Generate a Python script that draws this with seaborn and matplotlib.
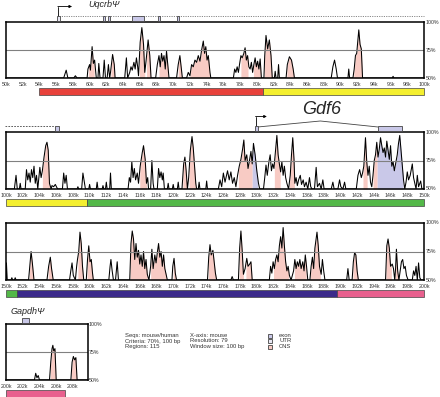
import numpy as np
import matplotlib
matplotlib.use("Agg")
import matplotlib.pyplot as plt
import matplotlib.transforms as mtransforms
from matplotlib.patches import Rectangle
import seaborn as sns

sns.set_style("white")
plt.rcParams['font.family'] = ['Liberation Sans', 'DejaVu Sans']

CNS = "#f8cbc4"
EXON = "#c9c8e8"
UTR = "#e9e8f4"

# ---------------- conservation profiles (position kb, % identity) ----------------
p1_profile = [
    (50, 50), (56.9, 50), (57.2, 57), (57.4, 50), (58.1, 50), (58.3, 52), (58.5, 50),
    (59.7, 50), (59.8, 58), (60.0, 62), (60.1, 57), (60.3, 78), (60.45, 63), (60.6, 66),
    (60.8, 50), (61.0, 50), (61.1, 63), (61.25, 50), (61.6, 50), (61.75, 66), (61.9, 50),
    (62.1, 50), (62.25, 62), (62.4, 50), (62.5, 55), (62.75, 71), (62.95, 62), (63.05, 50),
    (64.2, 50), (64.4, 68), (64.55, 50), (64.8, 55), (64.95, 60), (65.1, 57), (65.3, 64),
    (65.45, 58), (65.6, 68), (65.75, 60), (65.85, 52), (66.05, 82), (66.25, 95), (66.45, 80),
    (66.6, 55), (66.75, 65), (67.0, 84), (67.2, 70), (67.35, 50), (67.9, 50), (68.1, 62),
    (68.3, 70), (68.45, 60), (68.6, 72), (68.75, 65), (68.9, 70), (69.05, 58), (69.2, 74),
    (69.35, 62), (69.5, 50), (70.4, 50), (70.6, 62), (70.8, 70), (70.95, 60), (71.1, 50),
    (71.6, 50), (71.8, 55), (72.0, 52), (72.2, 62), (72.4, 60), (72.6, 66), (72.8, 64),
    (73.0, 70), (73.2, 65), (73.4, 75), (73.6, 83), (73.75, 72), (73.9, 78), (74.05, 66),
    (74.2, 70), (74.4, 55), (74.5, 50), (77.2, 50), (77.35, 58), (77.5, 55), (77.65, 60),
    (77.8, 55), (77.95, 63), (78.1, 70), (78.25, 68), (78.45, 72), (78.6, 77), (78.75, 66),
    (78.9, 70), (79.05, 60), (79.2, 58), (79.35, 64), (79.5, 55), (79.65, 62), (79.8, 68),
    (79.95, 60), (80.1, 65), (80.25, 58), (80.4, 67), (80.55, 50), (80.85, 50), (80.95, 70),
    (81.1, 88), (81.3, 76), (81.5, 84), (81.7, 70), (81.85, 50), (82.1, 50), (82.2, 56),
    (82.3, 50), (82.5, 50), (82.6, 62), (82.7, 50), (83.5, 50), (83.65, 62), (83.9, 69),
    (84.15, 66), (84.35, 58), (84.5, 50), (88.9, 50), (89.1, 60), (89.3, 66), (89.5, 58),
    (89.65, 50), (90.9, 50), (91.0, 58), (91.1, 50), (91.5, 50), (91.65, 58), (91.8, 70),
    (91.95, 72), (92.1, 85), (92.2, 93), (92.35, 80), (92.5, 76), (92.65, 50), (96.2, 50),
    (96.3, 51.5), (96.4, 50), (100, 50),
]
p1_cns = [(59.85, 60.55), (62.55, 63.0), (65.95, 66.6), (66.8, 67.3), (68.3, 69.4),
          (70.6, 71.0), (72.0, 74.35), (78.1, 78.95), (79.6, 80.5), (80.9, 81.85),
          (83.6, 84.45), (91.6, 92.6)]
p1_exon = []

p2_profile = [
    (100, 50), (101.0, 50), (101.2, 62), (101.35, 50), (101.6, 50), (101.7, 55), (101.8, 50),
    (102.3, 50), (102.45, 67), (102.6, 58), (102.75, 64), (102.9, 56), (103.05, 67),
    (103.2, 60), (103.35, 70), (103.5, 55), (103.65, 62), (103.8, 50), (103.9, 58),
    (104.05, 69), (104.2, 60), (104.35, 66), (104.55, 78), (104.75, 88), (104.9, 91),
    (105.05, 84), (105.2, 55), (105.4, 50), (105.5, 53), (105.7, 52), (105.9, 54),
    (106.1, 51), (106.2, 50), (106.75, 50), (106.9, 64), (107.05, 55), (107.2, 62),
    (107.35, 50), (108.5, 50), (108.6, 52), (108.7, 50), (109.05, 50), (109.2, 64),
    (109.4, 55), (109.5, 50), (109.9, 50), (110.0, 54), (110.1, 50), (110.8, 50),
    (110.9, 56), (111.0, 50), (111.5, 50), (111.6, 53), (111.7, 50), (111.9, 50),
    (112.0, 56), (112.1, 50), (112.4, 50), (112.5, 64), (112.6, 50), (114.6, 50),
    (114.75, 60), (114.9, 56), (115.05, 74), (115.2, 60), (115.35, 68), (115.5, 58),
    (115.7, 64), (115.85, 55), (116.05, 70), (116.3, 82), (116.45, 88), (116.65, 76),
    (116.8, 55), (116.95, 60), (117.05, 50), (117.3, 50), (117.45, 75), (117.6, 55),
    (117.7, 50), (118.1, 50), (118.25, 68), (118.4, 60), (118.55, 65), (118.7, 58),
    (118.8, 64), (118.95, 50), (119.3, 50), (119.4, 55), (119.5, 50), (119.9, 50),
    (120.0, 54), (120.1, 50), (120.5, 50), (120.6, 56), (120.7, 50), (121.05, 50),
    (121.25, 72), (121.4, 78), (121.55, 66), (121.7, 50), (121.85, 60), (122.05, 84),
    (122.25, 96), (122.4, 86), (122.55, 70), (122.7, 55), (122.8, 50), (123.0, 50),
    (123.1, 56), (123.2, 50), (123.9, 50), (124.0, 57), (124.1, 50), (125.4, 50),
    (125.6, 58), (125.8, 52), (126.0, 64), (126.2, 56), (126.5, 66), (126.7, 58),
    (126.9, 65), (127.1, 55), (127.3, 60), (127.5, 52), (127.7, 62), (127.9, 70),
    (128.1, 76), (128.3, 85), (128.45, 93), (128.6, 75), (128.8, 80), (128.95, 68),
    (129.1, 74), (129.3, 83), (129.45, 72), (129.6, 90), (129.8, 80), (130.0, 66),
    (130.2, 55), (130.35, 50), (130.8, 50), (130.95, 60), (131.1, 71), (131.25, 62),
    (131.45, 74), (131.6, 80), (131.75, 66), (131.9, 72), (132.05, 68), (132.25, 84),
    (132.4, 97), (132.55, 80), (132.7, 72), (132.85, 65), (133.0, 74), (133.15, 62),
    (133.3, 70), (133.45, 60), (133.6, 55), (133.8, 50), (134.0, 62), (134.15, 80),
    (134.3, 95), (134.45, 76), (134.55, 55), (134.7, 60), (134.85, 53), (135.0, 58),
    (135.2, 62), (135.35, 54), (135.55, 58), (135.7, 52), (135.9, 56), (136.1, 50),
    (136.3, 60), (136.45, 52), (136.6, 50), (136.9, 50), (137.1, 69), (137.25, 52),
    (137.5, 55), (137.7, 50), (137.9, 58), (138.05, 50), (138.9, 50), (139.1, 56),
    (139.25, 50), (139.7, 50), (139.9, 58), (140.05, 52), (140.3, 50), (140.5, 56),
    (140.65, 50), (141.9, 50), (142.1, 62), (142.3, 67), (142.5, 60), (142.65, 64),
    (142.8, 70), (143.0, 95), (143.15, 74), (143.3, 62), (143.45, 70), (143.6, 56),
    (143.75, 52), (143.9, 62), (144.05, 75), (144.2, 80), (144.35, 91), (144.5, 78),
    (144.65, 85), (144.8, 95), (144.95, 88), (145.1, 82), (145.25, 86), (145.4, 78),
    (145.55, 92), (145.7, 84), (145.85, 76), (146.0, 88), (146.15, 70), (146.3, 74),
    (146.45, 66), (146.6, 72), (146.8, 80), (146.95, 90), (147.1, 97), (147.25, 84),
    (147.4, 70), (147.55, 58), (147.7, 50), (147.85, 56), (148.0, 65), (148.15, 58),
    (148.35, 62), (148.6, 72), (148.75, 60), (148.9, 55), (149.05, 50), (149.2, 62),
    (149.35, 52), (149.6, 57), (149.75, 50), (150, 50),
]
p2_cns = [(104.35, 105.2), (116.0, 116.8), (121.15, 121.6), (121.9, 122.7),
          (127.8, 129.45), (132.1, 132.8), (133.9, 134.5), (142.7, 143.2), (143.9, 144.4)]
p2_exon = [(129.45, 130.1), (144.4, 147.5)]

p3_profile = [
    (150, 50), (150.05, 65), (150.15, 50), (150.6, 50), (150.7, 52), (150.8, 50),
    (151.0, 50), (151.1, 52), (151.2, 50), (152.7, 50), (152.85, 62), (153.0, 75),
    (153.15, 65), (153.35, 50), (154.9, 50), (155.1, 62), (155.3, 70), (155.45, 60),
    (155.65, 50), (157.6, 50), (157.75, 58), (157.9, 65), (158.05, 54), (158.3, 50),
    (158.45, 62), (158.55, 68), (158.7, 75), (158.85, 92), (159.0, 82), (159.15, 62),
    (159.3, 50), (159.6, 50), (159.75, 68), (159.9, 80), (160.05, 66), (160.2, 68),
    (160.35, 56), (160.45, 50), (162.3, 50), (162.45, 62), (162.55, 68), (162.7, 58),
    (162.85, 50), (163.1, 50), (163.3, 66), (163.45, 50), (164.8, 50), (164.95, 82),
    (165.1, 93), (165.25, 86), (165.4, 68), (165.55, 82), (165.7, 70), (165.85, 76),
    (166.0, 64), (166.15, 72), (166.3, 62), (166.45, 75), (166.6, 60), (166.75, 68),
    (166.9, 55), (167.1, 50), (167.3, 62), (167.45, 77), (167.6, 60), (167.8, 72),
    (167.95, 65), (168.1, 74), (168.25, 82), (168.4, 70), (168.55, 75), (168.7, 62),
    (168.85, 72), (169.0, 60), (169.15, 55), (169.3, 50), (169.85, 50), (169.95, 62),
    (170.1, 69), (170.25, 56), (170.4, 50), (174.1, 50), (174.25, 70), (174.4, 81),
    (174.55, 72), (174.75, 76), (174.9, 66), (175.05, 56), (175.2, 50), (176.9, 50),
    (177.05, 53), (177.2, 50), (177.8, 50), (177.95, 78), (178.1, 93), (178.25, 76),
    (178.4, 55), (178.6, 60), (178.8, 69), (178.95, 62), (179.15, 64), (179.3, 66),
    (179.45, 50), (181.5, 50), (181.65, 62), (181.8, 56), (181.95, 66), (182.1, 60),
    (182.25, 68), (182.4, 72), (182.55, 66), (182.7, 80), (182.85, 88), (183.0, 78),
    (183.15, 96), (183.3, 80), (183.45, 66), (183.6, 58), (183.75, 62), (183.9, 54),
    (184.1, 50), (184.4, 58), (184.55, 68), (184.7, 60), (184.85, 66), (185.0, 62),
    (185.15, 68), (185.3, 60), (185.5, 66), (185.65, 58), (185.8, 72), (185.95, 62),
    (186.1, 50), (186.35, 50), (186.5, 62), (186.65, 70), (186.8, 60), (186.95, 78),
    (187.1, 86), (187.2, 92), (187.35, 80), (187.5, 62), (187.7, 55), (187.85, 68),
    (188.0, 58), (188.15, 50), (190.75, 50), (190.9, 60), (191.05, 50), (191.4, 50),
    (191.55, 66), (191.7, 74), (191.85, 72), (192.0, 58), (192.15, 50), (195.4, 50),
    (195.55, 80), (195.7, 86), (195.85, 78), (196.0, 62), (196.2, 64), (196.35, 60),
    (196.5, 50), (196.6, 60), (196.7, 77), (196.85, 58), (197.0, 50), (197.15, 58),
    (197.3, 66), (197.45, 68), (197.6, 60), (197.75, 62), (197.9, 54), (198.1, 50),
    (198.6, 50), (198.75, 58), (198.9, 54), (199.05, 62), (199.2, 50), (199.35, 65),
    (199.5, 52), (199.65, 50), (200, 50),
]
p3_cns = [(152.8, 153.3), (155.05, 155.55), (158.6, 159.2), (159.7, 160.4),
          (164.85, 166.9), (167.3, 169.2), (170.0, 170.3), (174.2, 175.1),
          (177.9, 178.4), (178.7, 179.4), (182.0, 183.8), (184.5, 185.9),
          (186.4, 187.6), (191.5, 192.1), (195.45, 196.1), (196.55, 197.0)]
p3_exon = []

p4_profile = [
    (200, 50), (203.4, 50), (203.55, 56), (203.7, 52), (203.85, 54), (204.0, 50),
    (205.2, 50), (205.35, 66), (205.5, 78), (205.6, 81), (205.7, 76), (205.85, 78),
    (206.0, 50), (207.75, 50), (207.9, 66), (208.05, 71), (208.2, 68), (208.35, 70),
    (208.5, 50), (209.8, 50),
]
p4_cns = [(205.3, 205.95), (207.8, 208.45)]
p4_exon = []

# contig colour bars (start kb, end kb, colour)
p1_bar = [(54, 80.8, "#e8413b"), (80.8, 100, "#f4ef2f")]
p2_bar = [(100, 109.7, "#f4ef2f"), (109.7, 150, "#53b848")]
p3_bar = [(150, 151.3, "#53b848"), (151.3, 189.6, "#3b2a8a"), (189.6, 200, "#e8608e")]
p4_bar = [(200, 207.1, "#e8608e")]

# gene features (start kb, end kb, fill)
uqcrb_boxes = [(56.1, 56.5, UTR), (61.6, 61.85, EXON), (62.2, 62.45, EXON),
               (65.1, 66.5, EXON), (68.2, 68.45, EXON), (70.5, 70.75, EXON)]
p2_left_boxes = [(105.9, 106.3, EXON)]
gdf6_boxes = [(129.8, 130.1, EXON), (144.5, 147.4, EXON)]
gapdh_boxes = [(201.9, 202.8, EXON)]

W, H = 440, 397
fig = plt.figure(figsize=(W / 100, H / 100), dpi=100)


def panel(l, t, r, b):
    ax = fig.add_axes([l / W, 1 - b / H, (r - l) / W, (b - t) / H])
    return ax, b - t


def draw_profile(ax, prof, cns, exons, xlim, tick_end):
    kb = [p[0] for p in prof]
    pid = [p[1] for p in prof]
    for regs, col in ((cns, CNS), (exons, EXON)):
        for a, b in regs:
            xs = np.linspace(a, b, 60)
            ax.fill_between(xs, 50, np.interp(xs, kb, pid), color=col, lw=0)
    sns.lineplot(x=kb, y=pid, ax=ax, color="black", lw=0.75,
                 estimator=None, sort=False)
    ax.axhline(75, color="#808080", lw=0.8)
    ax.set_xlim(*xlim)
    ax.set_ylim(50, 100)
    ticks = np.arange(xlim[0], tick_end + 0.01, 2)
    ax.set_xticks(ticks)
    ax.set_xticklabels([f"{int(t)}k" for t in ticks])
    ax.set_yticks([])
    ax.set_xlabel("")
    ax.set_ylabel("")
    ax.tick_params(axis="x", labelsize=3.8, length=1.5, width=0.5, pad=1.2,
                   colors="#333333")
    for s in ax.spines.values():
        s.set_linewidth(1.1)
        s.set_color("black")
    tr = mtransforms.blended_transform_factory(ax.transAxes, ax.transData)
    for v in (100, 75, 50):
        ax.text(1.004, v, f"{v}%", transform=tr, fontsize=3.8,
                va="center", ha="left", color="#333333")


def color_bar(ax, h, segs):
    tr = mtransforms.blended_transform_factory(ax.transData, ax.transAxes)
    for a, b, c in segs:
        ax.add_patch(Rectangle((a, -16.5 / h), b - a, 6.5 / h, transform=tr,
                               facecolor=c, edgecolor="#444444", lw=0.5,
                               clip_on=False))


def gene_boxes(ax, h, boxes):
    tr = mtransforms.blended_transform_factory(ax.transData, ax.transAxes)
    for a, b, c in boxes:
        ax.add_patch(Rectangle((a, 1 + 0.8 / h), b - a, 5.5 / h, transform=tr,
                               facecolor=c, edgecolor="#444444", lw=0.6,
                               clip_on=False, zorder=5))


def tss_arrow(ax, h, x0, x1):
    tr = mtransforms.blended_transform_factory(ax.transData, ax.transAxes)
    ax.plot([x0, x0], [1 + 6 / h, 1 + 15.5 / h], transform=tr, color="black",
            lw=0.6, clip_on=False)
    ax.annotate("", xy=(x1, 1 + 15.5 / h), xytext=(x0, 1 + 15.5 / h),
                xycoords=tr, textcoords=tr,
                arrowprops=dict(arrowstyle="-|>", lw=0.6, color="black",
                                mutation_scale=4, shrinkA=0, shrinkB=0))


# ---------------- panel 1 ----------------
ax1, h1 = panel(6, 22, 424, 78)
draw_profile(ax1, p1_profile, p1_cns, p1_exon, (50, 100), 100)
color_bar(ax1, h1, p1_bar)
tr1 = mtransforms.blended_transform_factory(ax1.transData, ax1.transAxes)
ax1.plot([56.3, 100], [1 + 6.3 / h1] * 2, transform=tr1, color="#888888",
         lw=0.7, ls=(0, (1.2, 1.2)), clip_on=False)
gene_boxes(ax1, h1, uqcrb_boxes)
tss_arrow(ax1, h1, 56.2, 57.9)
ax1.text(59.8, 1 + 17.5 / h1, "UqcrbΨ", transform=tr1, fontsize=6.5,
         style="italic", va="center", ha="left")

# ---------------- panel 2 ----------------
ax2, h2 = panel(6, 132, 424, 189)
draw_profile(ax2, p2_profile, p2_cns, p2_exon, (100, 150), 150)
color_bar(ax2, h2, p2_bar)
tr2 = mtransforms.blended_transform_factory(ax2.transData, ax2.transAxes)
ax2.plot([99.9, 105.9], [1 + 6.3 / h2] * 2, transform=tr2, color="#444444",
         lw=0.6, ls=(0, (2, 1.5)), clip_on=False)
ax2.plot([130.1, 137.6, 144.5], [1 + 5 / h2, 1 + 11 / h2, 1 + 5 / h2],
         transform=tr2, color="#444444", lw=0.6, clip_on=False)
gene_boxes(ax2, h2, p2_left_boxes + gdf6_boxes)
tss_arrow(ax2, h2, 129.85, 131.2)
ax2.text(137.7, 1 + 22 / h2, "Gdf6", transform=tr2, fontsize=13,
         style="italic", va="center", ha="center")

# ---------------- panel 3 ----------------
ax3, h3 = panel(6, 223, 424, 280)
draw_profile(ax3, p3_profile, p3_cns, p3_exon, (150, 200), 200)
color_bar(ax3, h3, p3_bar)

# ---------------- panel 4 ----------------
ax4, h4 = panel(6, 324, 88, 380)
draw_profile(ax4, p4_profile, p4_cns, p4_exon, (200, 209.8), 208)
color_bar(ax4, h4, p4_bar)
tr4 = mtransforms.blended_transform_factory(ax4.transData, ax4.transAxes)
gene_boxes(ax4, h4, gapdh_boxes)
ax4.text(200.5, 1 + 12 / h4, "GapdhΨ", transform=tr4, fontsize=6.5,
         style="italic", va="center", ha="left")

# ---------------- info / legend ----------------
info_left = ["Seqs: mouse/human", "Criteria: 70%, 100 bp", "Regions: 115"]
info_mid = ["X-axis: mouse", "Resolution: 79", "Window size: 100 bp"]
legend_items = [("exon", EXON), ("UTR", UTR), ("CNS", CNS)]
for i, (a, b) in enumerate(zip(info_left, info_mid)):
    y = 1 - (335.5 + i * 5.5) / H
    fig.text(125 / W, y, a, fontsize=4.2, va="center", color="#333333")
    fig.text(190 / W, y, b, fontsize=4.2, va="center", color="#333333")
for i, (lab, col) in enumerate(legend_items):
    y = 1 - (335.5 + i * 5.5) / H
    fig.add_artist(Rectangle((268 / W, y - 2 / H), 4 / W, 4 / H,
                             transform=fig.transFigure, facecolor=col,
                             edgecolor="#444444", lw=0.6))
    fig.text(279 / W, y, lab, fontsize=4.2, va="center", color="#333333")

fig.savefig("out.png", dpi=100)
